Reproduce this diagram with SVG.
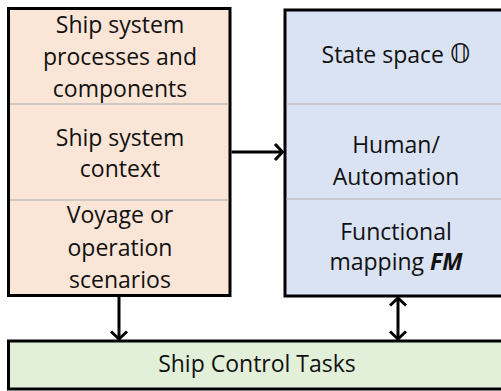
<svg xmlns="http://www.w3.org/2000/svg" width="501" height="391" viewBox="0 0 501 391">
  <style>
    .box { stroke: #000; stroke-width: 3; }
    .div { stroke: #bfbfbf; stroke-width: 1.5; }
    .t { font-family: "Open Sans", "Noto Sans", "Liberation Sans", sans-serif; font-size: 23px; fill: #111; text-anchor: middle; }
    .conn { stroke: #000; stroke-width: 3; fill: none; }
  </style>
  <defs>
    <marker id="arr" markerUnits="userSpaceOnUse" markerWidth="20" markerHeight="20" viewBox="-10 -10 20 20" refX="0" refY="0" orient="auto-start-reverse">
      <path d="M-8,-8 L-0.5,0 L-8,8" fill="none" stroke="#000" stroke-width="3"/>
    </marker>
  </defs>
  <rect width="501" height="391" fill="#fff"/>

  <g id="left-box">
    <rect class="box" x="8.5" y="8.5" width="221.5" height="287" fill="#fbe5d6"/>
    <line class="div" x1="10" y1="104" x2="228.5" y2="104"/>
    <line class="div" x1="10" y1="200" x2="228.5" y2="200"/>
    <text class="t" x="120" y="33">Ship system</text>
    <text class="t" x="120" y="65">processes and</text>
    <text class="t" x="120" y="97">components</text>
    <text class="t" x="120" y="146">Ship system</text>
    <text class="t" x="120" y="177">context</text>
    <text class="t" x="120" y="223">Voyage or</text>
    <text class="t" x="120" y="256">operation</text>
    <text class="t" x="120" y="288">scenarios</text>
  </g>

  <g id="right-box">
    <rect class="box" x="285" y="10" width="230" height="286" fill="#dae3f3"/>
    <line class="div" x1="286.5" y1="104" x2="501" y2="104"/>
    <line class="div" x1="286.5" y1="199" x2="501" y2="199"/>
    <text class="t" x="396" y="63">State space <tspan font-family="DejaVu Sans, sans-serif" font-size="26">𝕆</tspan></text>
    <text class="t" x="396" y="153">Human/</text>
    <text class="t" x="396" y="185">Automation</text>
    <text class="t" x="396" y="240">Functional</text>
    <text class="t" x="396" y="270">mapping <tspan font-weight="bold" font-style="italic">FM</tspan></text>
  </g>

  <g id="bottom-box">
    <rect class="box" x="8.5" y="341" width="500" height="48" fill="#e2f0d9"/>
    <text class="t" x="257" y="372">Ship Control Tasks</text>
  </g>

  <g id="connectors">
    <line class="conn" x1="231.5" y1="152" x2="283" y2="152" marker-end="url(#arr)"/>
    <line class="conn" x1="119" y1="297" x2="119" y2="339.5" marker-end="url(#arr)"/>
    <line class="conn" x1="398" y1="297.5" x2="398" y2="339.5" marker-start="url(#arr)" marker-end="url(#arr)"/>
  </g>
</svg>
